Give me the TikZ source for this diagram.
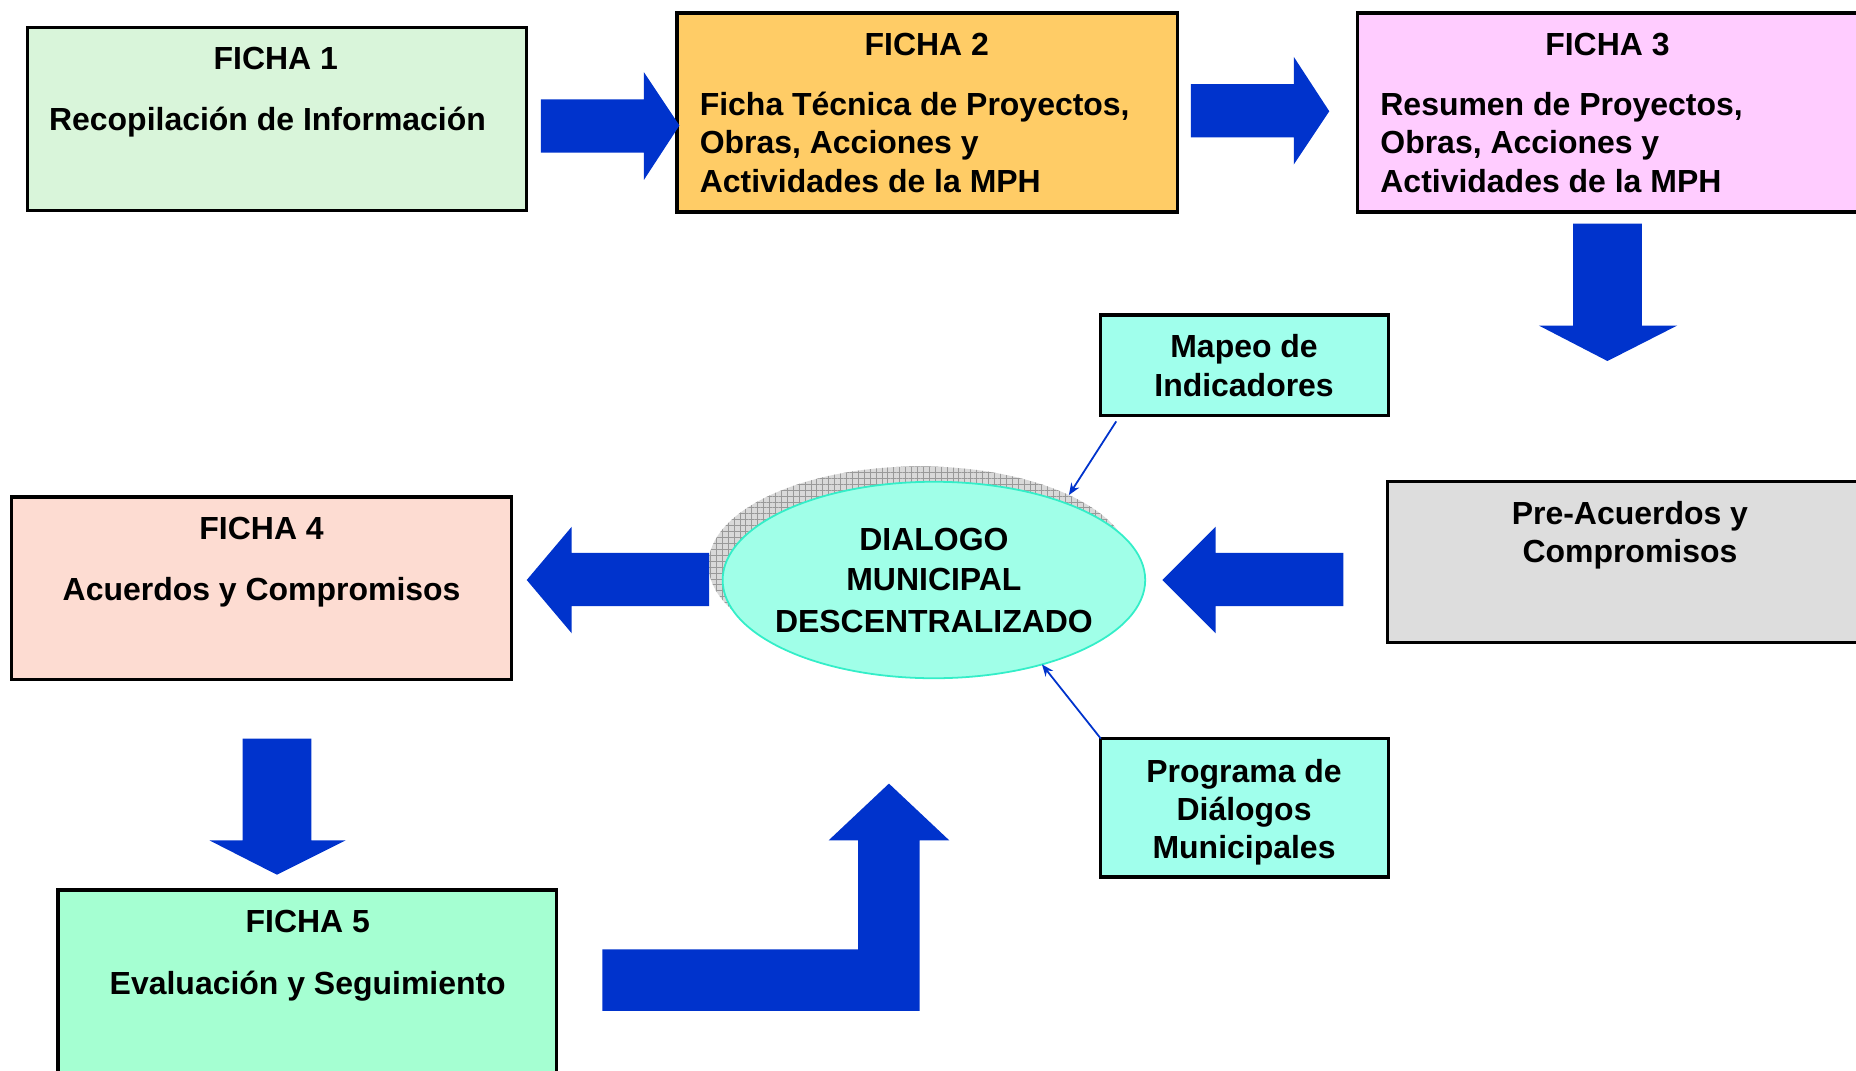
\documentclass[tikz,border=0pt]{standalone}
\usepackage{fontspec}
\setmainfont{Liberation Sans}
\usetikzlibrary{shapes.geometric,calc,patterns.meta,arrows.meta}
\definecolor{bl}{HTML}{0033CC}
\definecolor{cfa}{HTML}{D9F5DA}
\definecolor{cfb}{HTML}{FFCC66}
\definecolor{cfc}{HTML}{FFCCFF}
\definecolor{cfd}{HTML}{FDDCD2}
\definecolor{cfe}{HTML}{A5FFD2}
\definecolor{aq}{HTML}{A0FFEC}
\definecolor{ell}{HTML}{A0FFE8}
\definecolor{ellb}{HTML}{33EEC8}
\definecolor{gr}{HTML}{DDDDDD}
\tikzset{
  box/.style={draw=black, line width=2.8pt, rectangle, inner sep=0, outer sep=0},
  lbl/.style={anchor=base, inner sep=0, font=\fontsize{27}{32}\selectfont\bfseries},
  lblw/.style={lbl, anchor=base west},
  blk/.style={fill=bl, draw=none},
  thinarrow/.style={draw=bl, line width=1.5pt, -{Stealth[length=10pt,width=8pt]}}
}
\begin{document}
\begin{tikzpicture}[x=1pt,y=-1pt]
\useasboundingbox (0,0) rectangle (1568,904);
% boxes
\node[box, fill=cfa, minimum width=422, minimum height=155] (f1) at (234,100.5) {};
\node[box, fill=cfb, minimum width=423, minimum height=168] (f2) at (783.5,95) {};
\node[box, fill=cfc, minimum width=433, minimum height=168] (f3) at (1363.5,95) {};
\node[box, fill=aq, minimum width=243, minimum height=85] (mapeo) at (1051.5,308.5) {};
\node[box, fill=gr, minimum width=408, minimum height=136] (pre) at (1376,475) {};
\node[box, fill=cfd, minimum width=422, minimum height=154] (f4) at (221,497) {};
\node[box, fill=cfe, minimum width=421, minimum height=163] (f5) at (259.5,833.5) {};
\node[box, fill=aq, minimum width=243, minimum height=117] (prog) at (1051.5,682.5) {};
% ellipse with shadow
\node[ellipse, minimum width=357, minimum height=166, inner sep=0, outer sep=0, fill=gray!30] (shadow) at (777,477) {};
\fill[pattern={Hatch[angle=0,distance=5pt,line width=0.5pt]}, pattern color=gray!80] (777,477) ellipse [x radius=178.5, y radius=83];
\node[ellipse, minimum width=357, minimum height=166, inner sep=0, outer sep=0, fill=ell, draw=ellb, line width=1.5pt] (dlg) at (789,490) {};
% block arrows
\fill[blk] (457,84) -- (544,84) -- (544,61) -- (574,106) -- (544,152) -- (544,129) -- (457,129) -- cycle;
\fill[blk] (1006,71) -- (1093,71) -- (1093,48) -- (1123,94) -- (1093,139) -- (1093,116) -- (1006,116) -- cycle;
\fill[blk] (1329,189) -- (1387,189) -- (1387,275) -- (1417,275) -- (1358,305) -- (1300,275) -- (1329,275) -- cycle;
\fill[blk] (1135,467) -- (1027,467) -- (1027,445) -- (982,490) -- (1027,535) -- (1027,512) -- (1135,512) -- cycle;
\fill[blk] (599,467) -- (483,467) -- (483,445) -- (445,490) -- (483,535) -- (483,512) -- (599,512) -- cycle;
\fill[blk] (205,624) -- (263,624) -- (263,710) -- (292,710) -- (234,739) -- (177,710) -- (205,710) -- cycle;
\fill[blk] (509,802) -- (725,802) -- (725,710) -- (700,710) -- (751,662) -- (802,710) -- (777,710) -- (777,854) -- (509,854) -- cycle;
% thin arrows
\draw[thinarrow] ($(mapeo.south west)+(13,5)$) -- (shadow.25);
\draw[thinarrow] (prog.north west) -- (dlg.-38);
% texts
\node[lbl] (t1a) at (233,59) {FICHA 1};
\node[lbl] (t1b) at (226,110) {Recopilación de Información};
\node[lbl] (t2a) at (783,47) {FICHA 2};
\node[lblw] (t2b) at (591,98) {Ficha Técnica de Proyectos,};
\node[lblw] (t2c) at (591,130) {Obras, Acciones y};
\node[lblw] (t2d) at (591,163) {Actividades de la MPH};
\node[lbl] (t3a) at (1358,47) {FICHA 3};
\node[lblw] (t3b) at (1166,98) {Resumen de Proyectos,};
\node[lblw] (t3c) at (1166,130) {Obras, Acciones y};
\node[lblw] (t3d) at (1166,163) {Actividades de la MPH};
\node[lbl] (tma) at (1051,302) {Mapeo de};
\node[lbl] (tmb) at (1051,335) {Indicadores};
\node[lbl] (tpa) at (1377,443) {Pre-Acuerdos y};
\node[lbl] (tpb) at (1377,475) {Compromisos};
\node[lbl] (tda) at (789,465) {DIALOGO};
\node[lbl] (tdb) at (789,499) {MUNICIPAL};
\node[lbl] (tdc) at (789,534) {DESCENTRALIZADO};
\node[lbl] (t4a) at (221,456) {FICHA 4};
\node[lbl] (t4b) at (221,507) {Acuerdos y Compromisos};
\node[lbl] (t5a) at (260,788) {FICHA 5};
\node[lbl] (t5b) at (260,840) {Evaluación y Seguimiento};
\node[lbl] (tga) at (1051,661) {Programa de};
\node[lbl] (tgb) at (1051,693) {Diálogos};
\node[lbl] (tgc) at (1051,725) {Municipales};
\end{tikzpicture}
\end{document}
